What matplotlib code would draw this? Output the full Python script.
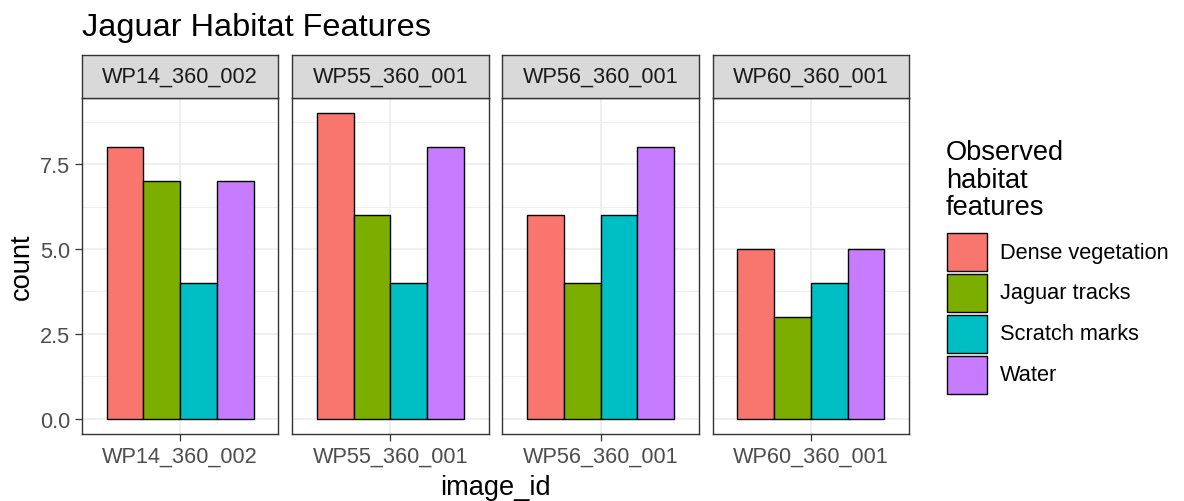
import numpy as np
import matplotlib
matplotlib.use("Agg")
import matplotlib.pyplot as plt
from matplotlib.patches import Rectangle
from matplotlib import ticker

# ---- data ----
image_ids = ["WP14_360_002", "WP55_360_001", "WP56_360_001", "WP60_360_001"]
features = ["Dense vegetation", "Jaguar tracks", "Scratch marks", "Water"]
dense_veg = [8, 9, 6, 5]
jaguar_tracks = [7, 6, 4, 3]
scratch_marks = [4, 4, 6, 4]
water = [7, 8, 8, 5]
counts = [dense_veg, jaguar_tracks, scratch_marks, water]
colors = ["#F8766D", "#7CAE00", "#00BFC4", "#C77CFF"]

plt.rcParams['font.family'] = ['Liberation Sans', 'DejaVu Sans']

W, H = 1184, 502
fig = plt.figure(figsize=(W / 100, H / 100), dpi=100)


def box(x0, y0, x1, y1):
    # pixel box (top-left origin) -> figure fraction rect
    return [x0 / W, 1 - y1 / H, (x1 - x0) / W, (y1 - y0) / H]


def fy(y):
    return 1 - y / H


small = 15.7
big = 19.6
tick_col = "#4D4D4D"
line_col = "#333333"

left, pw, gap = 82, 196.3, 13.9
strip_top, panel_top, panel_bot = 56, 99, 435
ymin, ymax = -0.45, 9.45
n = len(features)
bw = 0.9 / n
offsets = [(i - (n - 1) / 2) * bw for i in range(n)]

for p, pid in enumerate(image_ids):
    x0 = left + p * (pw + gap)
    ax = fig.add_axes(box(x0, panel_top, x0 + pw, panel_bot))
    for i in range(n):
        ax.bar(1 + offsets[i], counts[i][p], width=bw, color=colors[i],
               edgecolor="black", linewidth=1.0, zorder=3)
    ax.set_xlim(0.4, 1.6)
    ax.set_ylim(ymin, ymax)
    ax.set_xticks([1])
    ax.set_xticklabels([pid])
    ax.yaxis.set_major_locator(ticker.FixedLocator([0, 2.5, 5, 7.5]))
    ax.yaxis.set_minor_locator(ticker.FixedLocator([1.25, 3.75, 6.25, 8.75]))
    ax.yaxis.set_major_formatter(ticker.StrMethodFormatter('{x:.1f}'))
    ax.grid(True, which='major', color="#EBEBEB", linewidth=1.1, zorder=0)
    ax.grid(True, which='minor', axis='y', color="#EBEBEB", linewidth=0.55, zorder=0)
    ax.set_axisbelow(True)
    ax.tick_params(axis='both', which='major', length=4.8, width=0.9, color=line_col,
                   labelsize=small, labelcolor=tick_col, pad=3.5)
    ax.tick_params(axis='y', which='minor', length=0)
    if p > 0:
        ax.tick_params(axis='y', which='major', left=False, labelleft=False)
    for s in ax.spines.values():
        s.set_color(line_col)
        s.set_linewidth(1.0)
        s.set_zorder(5)

    # facet strip
    sax = fig.add_axes(box(x0, strip_top, x0 + pw, panel_top))
    sax.set_facecolor("#D9D9D9")
    sax.set_xticks([])
    sax.set_yticks([])
    for s in sax.spines.values():
        s.set_color(line_col)
        s.set_linewidth(1.0)
    sax.text(0.5, 0.5, pid, transform=sax.transAxes, ha='center', va='center',
             fontsize=small, color="#1A1A1A")

# titles
fig.text(82 / W, fy(36), "Jaguar Habitat Features", fontsize=23.4, ha='left',
         va='baseline', color="black")
fig.text(22 / W, fy((panel_top + panel_bot) / 2), "count", fontsize=big, rotation=90,
         ha='center', va='center')
fig.text((left + (4 * pw + 3 * gap) / 2) / W, fy(488), "image_id", fontsize=big,
         ha='center', va='center')

# legend
for j, line in enumerate(["Observed", "habitat", "features"]):
    fig.text(946 / W, fy(160 + 27.5 * j), line, fontsize=big, ha='left', va='baseline')
for i, lab in enumerate(features):
    top = 234 + 41 * i
    fig.add_artist(Rectangle((947 / W, fy(top + 38)), 40 / W, 38 / H,
                             transform=fig.transFigure, facecolor=colors[i],
                             edgecolor="black", linewidth=1.0))
    fig.text(1000 / W, fy(top + 19), lab, fontsize=small, ha='left', va='center')

plt.savefig("out.png", dpi=100)
plt.close()
